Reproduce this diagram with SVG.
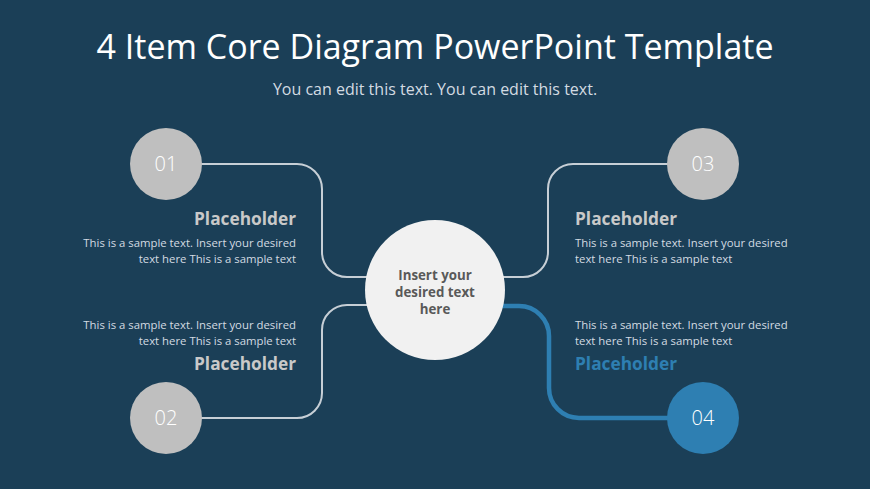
<svg xmlns="http://www.w3.org/2000/svg" width="870" height="489" viewBox="0 0 870 489">
<style>
.title{font-family:"Open Sans","Noto Sans",sans-serif;font-size:34px;fill:#ffffff}
.sub{font-family:"Open Sans","Noto Sans",sans-serif;font-size:16px;fill:#d3dbe2}
.ph{font-family:"Open Sans","Noto Sans",sans-serif;font-size:17.3px;font-weight:700;fill:#c9c9c9}
.txt{font-family:"Open Sans","Noto Sans",sans-serif;font-size:11.35px;fill:#d3dbe2}
.num{font-family:"Open Sans","Noto Sans",sans-serif;font-size:20px;font-weight:300;fill:#ffffff;text-anchor:middle}
.ctr{font-family:"Open Sans","Noto Sans",sans-serif;font-size:13.3px;font-weight:700;fill:#595959;text-anchor:middle}
.conn{fill:none;stroke:#c7cfd6;stroke-width:2}
.blue{fill:none;stroke:#2e7fb2;stroke-width:4.5}
.r{text-anchor:end}
</style>
<rect width="870" height="489" fill="#1b3f57"/>
<text class="title" x="435" y="59" text-anchor="middle">4 Item Core Diagram PowerPoint Template</text>
<text class="sub" x="435" y="95" text-anchor="middle">You can edit this text. You can edit this text.</text>
<g id="connectors">
<path class="conn" d="M200,164 H297 A25,25 0 0 1 322,189 V252 A25,25 0 0 0 347,277 H372"/>
<path class="conn" d="M200,418 H297 A25,25 0 0 0 322,393 V330 A25,25 0 0 1 347,305 H375"/>
<path class="conn" d="M669,164 H573 A25,25 0 0 0 548,189 V252 A25,25 0 0 1 523,277 H498"/>
<path class="blue" d="M495,306 H519 A30,30 0 0 1 549,336 V388 A30,30 0 0 0 579,418 H670"/>
</g>
<g id="center">
<circle cx="435" cy="290" r="70" fill="#f1f1f1"/>
<text class="ctr" x="435" y="280">Insert your</text>
<text class="ctr" x="435" y="297">desired text</text>
<text class="ctr" x="435" y="314">here</text>
</g>
<g id="item01">
<circle cx="166" cy="164" r="36" fill="#bfbfbf"/>
<text class="num" x="166" y="171">01</text>
<text class="ph r" x="296" y="225">Placeholder</text>
<text class="txt r" x="296" y="247">This is a sample text. Insert your desired</text>
<text class="txt r" x="296" y="263">text here This is a sample text</text>
</g>
<g id="item02">
<circle cx="166" cy="418" r="36" fill="#bfbfbf"/>
<text class="num" x="166" y="425">02</text>
<text class="txt r" x="296" y="329">This is a sample text. Insert your desired</text>
<text class="txt r" x="296" y="345">text here This is a sample text</text>
<text class="ph r" x="296" y="370">Placeholder</text>
</g>
<g id="item03">
<circle cx="703" cy="164" r="36" fill="#bfbfbf"/>
<text class="num" x="703" y="171">03</text>
<text class="ph" x="575" y="225">Placeholder</text>
<text class="txt" x="575" y="247">This is a sample text. Insert your desired</text>
<text class="txt" x="575" y="263">text here This is a sample text</text>
</g>
<g id="item04">
<circle cx="703" cy="418" r="36" fill="#2e7fb2"/>
<text class="num" x="703" y="425">04</text>
<text class="txt" x="575" y="329">This is a sample text. Insert your desired</text>
<text class="txt" x="575" y="345">text here This is a sample text</text>
<text class="ph" x="575" y="370" style="fill:#2e7fb2">Placeholder</text>
</g>
</svg>
